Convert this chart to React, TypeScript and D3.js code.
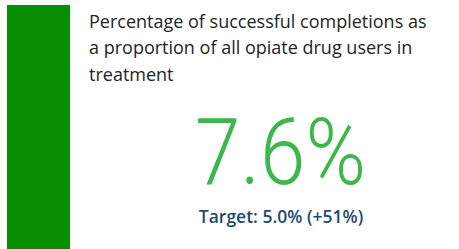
import React from "react";
import * as d3 from "d3";

const WIDTH = 459;
const HEIGHT = 249;

const titleLines = [
  "Percentage of successful completions as",
  "a proportion of all opiate drug users in",
  "treatment",
];
const values = [7.6];
const targets = [5.0];
const changeLabels = ["+51%"];

const BAR_COLOR = "#078f00";
const VALUE_COLOR = "#3db74b";
const TARGET_COLOR = "#1f4a6e";

const App = () => {
  const fmt = d3.format(".1f");
  const barX = d3.scaleBand<number>().domain([0]).range([7, 70]).padding(0);
  const barY = d3.scaleLinear().domain([0, 1]).range([HEIGHT, 5]);

  return (
    <svg
      width={WIDTH}
      height={HEIGHT}
      style={{ position: "absolute", left: 0, top: 0 }}
    >
      <rect
        x={barX(0)}
        y={barY(1)}
        width={barX.bandwidth()}
        height={barY(0) - barY(1)}
        fill={BAR_COLOR}
      />
      <g fontFamily="'Open Sans', sans-serif" fontSize={18} fill="#252423">
        {titleLines.map((line, i) => (
          <text key={i} x={89} y={27.5 + i * 26.5}>
            {line}
          </text>
        ))}
      </g>
      <text
        transform="translate(280.5,184) scale(0.88,1)"
        textAnchor="middle"
        fontFamily="Roboto, sans-serif"
        fontWeight={300}
        fontSize={93}
        fill={VALUE_COLOR}
      >
        {fmt(values[0])}%
      </text>
      <text
        x={281}
        y={223}
        textAnchor="middle"
        fontFamily="'Open Sans', sans-serif"
        fontWeight={600}
        fontSize={17.5}
        fill={TARGET_COLOR}
      >
        Target: {fmt(targets[0])}% ({changeLabels[0]})
      </text>
    </svg>
  );
};

export default App;
